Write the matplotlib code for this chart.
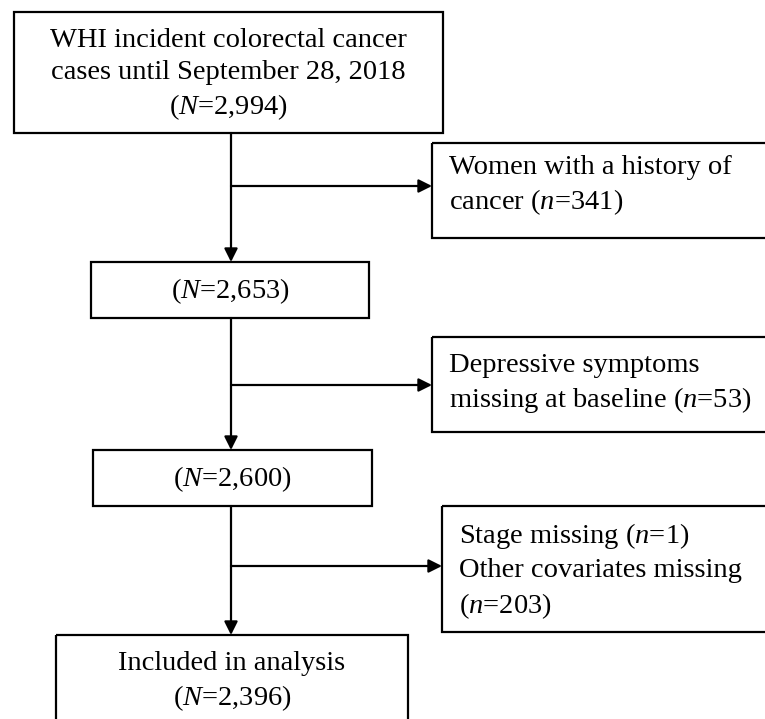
import matplotlib.pyplot as plt
from matplotlib.patches import Rectangle

plt.rcParams['font.family'] = ['Liberation Serif', 'DejaVu Serif']
plt.rcParams['mathtext.fontset'] = 'custom'
plt.rcParams['mathtext.rm'] = 'Liberation Serif'
plt.rcParams['mathtext.it'] = 'Liberation Serif:italic'

# flow counts
main_counts = ['2,994', '2,653', '2,600', '2,396']
excluded_counts = ['341', '53', '1', '203']

main_labels = [
    'WHI incident colorectal cancer\ncases until September 28, 2018\n($N$=' + main_counts[0] + ')',
    '($N$=' + main_counts[1] + ')',
    '($N$=' + main_counts[2] + ')',
    'Included in analysis\n($N$=' + main_counts[3] + ')',
]
side_labels = [
    'Women with a history of\ncancer ($n$=' + excluded_counts[0] + ')',
    'Depressive symptoms\nmissing at baseline ($n$=' + excluded_counts[1] + ')',
    'Stage missing ($n$=' + excluded_counts[2] + ')\nOther covariates missing\n($n$=' + excluded_counts[3] + ')',
]

W, H = 765, 719
fig = plt.figure(figsize=(W / 100, H / 100), dpi=100)
ax = fig.add_axes([0, 0, 1, 1])
ax.set_xlim(0, W)
ax.set_ylim(H, 0)
ax.axis('off')

fs = 20.5
lw = 1.6
ls = 1.35

# boxes as (left, top, right, bottom) in pixels
main_boxes = [(14, 12, 443, 133), (91, 262, 369, 318), (93, 450, 372, 506), (56, 635, 408, 735)]
main_text_y = [75, 291, 479, 682]
side_boxes = [(432, 143, 775, 238), (432, 337, 775, 432), (442, 506, 775, 632)]
side_text_y = [186, 384, 571]
arrow_y = [186, 385, 566]
cx = 231

for (l, t, r, b), lab, ty in zip(main_boxes, main_labels, main_text_y):
    ax.add_patch(Rectangle((l, t), r - l, b - t, fill=False, lw=lw, ec='black'))
    ax.text((l + r) / 2, ty, lab, ha='center', va='center', fontsize=fs, linespacing=ls)

for (l, t, r, b), lab, ty in zip(side_boxes, side_labels, side_text_y):
    ax.add_patch(Rectangle((l, t), r - l, b - t, fill=False, lw=lw, ec='black'))
    ax.text(l + 17, ty, lab, ha='left', va='center', fontsize=fs, linespacing=ls)

arrow_kw = dict(arrowstyle='-|>', color='black', lw=lw, mutation_scale=20, shrinkA=0, shrinkB=0)

# vertical arrows between main boxes
for (l1, t1, r1, b1), (l2, t2, r2, b2) in zip(main_boxes[:-1], main_boxes[1:]):
    ax.annotate('', xy=(cx, t2), xytext=(cx, b1), arrowprops=arrow_kw)

# horizontal arrows to exclusion boxes
for y, (l, t, r, b) in zip(arrow_y, side_boxes):
    ax.annotate('', xy=(l, y), xytext=(cx, y), arrowprops=arrow_kw)

fig.savefig('out.png', dpi=100, facecolor='white')
